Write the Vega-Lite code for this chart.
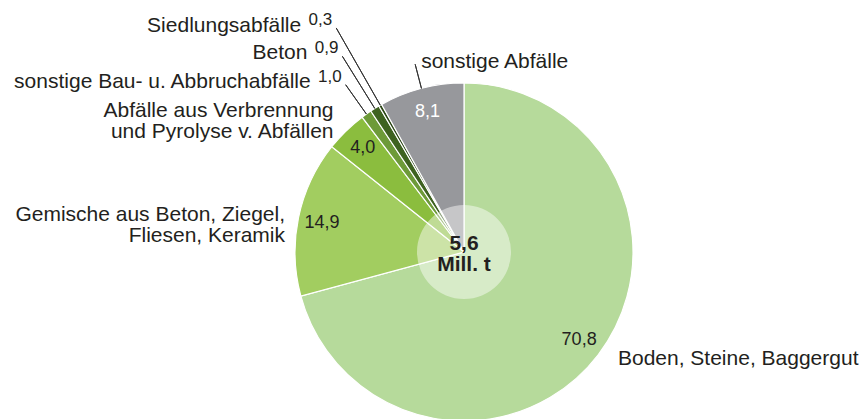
{
  "$schema": "https://vega.github.io/schema/vega-lite/v6.json",
  "autosize": {"type": "none"},
  "padding": {"left": 61, "top": 85, "right": 0, "bottom": 0},
  "width": 806,
  "height": 334,
  "background": "white",
  "config": {"view": {"stroke": null}, "font": "Liberation Sans"},
  "datasets": {
    "waste": [
      {"key": "Boden", "name": "Boden, Steine, Baggergut", "value": 70.8, "label": "70,8", "order": 1},
      {"key": "Gemische", "name": "Gemische aus Beton, Ziegel,\nFliesen, Keramik", "value": 14.9, "label": "14,9", "order": 2},
      {"key": "Verbrennung", "name": "Abfälle aus Verbrennung\nund Pyrolyse v. Abfällen", "value": 4.0, "label": "4,0", "order": 3},
      {"key": "Bau", "name": "sonstige Bau- u. Abbruchabfälle", "value": 1.0, "label": "1,0", "order": 4},
      {"key": "Beton", "name": "Beton", "value": 0.9, "label": "0,9", "order": 5},
      {"key": "Siedlung", "name": "Siedlungsabfälle", "value": 0.3, "label": "0,3", "order": 6},
      {"key": "Sonstige", "name": "sonstige Abfälle", "value": 8.1, "label": "8,1", "order": 7}
    ],
    "total": [{"centerLabel": "5,6\nMill. t"}]
  },
  "data": {"name": "waste"},
  "layer": [
    {
      "mark": {"type": "arc", "radius": 169, "stroke": "white", "strokeWidth": 1.2},
      "encoding": {
        "theta": {"field": "value", "type": "quantitative", "stack": true},
        "order": {"field": "order"},
        "color": {
          "field": "key", "type": "nominal", "legend": null,
          "scale": {
            "domain": ["Boden", "Gemische", "Verbrennung", "Bau", "Beton", "Siedlung", "Sonstige"],
            "range": ["#b6da9b", "#a2cd60", "#8bbd3e", "#6d9a38", "#3e6220", "#2c4716", "#97989c"]
          }
        }
      }
    },
    {
      "transform": [{"aggregate": [{"op": "sum", "field": "value", "as": "value"}]}],
      "mark": {"type": "arc", "radius": 47, "fill": "white", "fillOpacity": 0.45, "strokeWidth": 0},
      "encoding": {"theta": {"field": "value", "type": "quantitative", "stack": true}}
    },
    {
      "mark": {"type": "arc", "radius": 204.9, "radius2": 169, "padAngle": 1, "filled": false, "stroke": "#333333", "strokeWidth": 1},
      "encoding": {
        "theta": {"field": "value", "type": "quantitative", "stack": true},
        "order": {"field": "order"},
        "strokeOpacity": {"condition": {"test": "datum.key === 'Bau'", "value": 1}, "value": 0}
      }
    },
    {
      "mark": {"type": "arc", "radius": 230.4, "radius2": 169, "padAngle": 1, "filled": false, "stroke": "#333333", "strokeWidth": 1},
      "encoding": {
        "theta": {"field": "value", "type": "quantitative", "stack": true},
        "order": {"field": "order"},
        "strokeOpacity": {"condition": {"test": "datum.key === 'Beton'", "value": 1}, "value": 0}
      }
    },
    {
      "mark": {"type": "arc", "radius": 257.9, "radius2": 169, "padAngle": 1, "filled": false, "stroke": "#333333", "strokeWidth": 1},
      "encoding": {
        "theta": {"field": "value", "type": "quantitative", "stack": true},
        "order": {"field": "order"},
        "strokeOpacity": {"condition": {"test": "datum.key === 'Siedlung'", "value": 1}, "value": 0}
      }
    },
    {
      "mark": {"type": "arc", "radius": 194, "radius2": 169, "padAngle": 1, "filled": false, "stroke": "#333333", "strokeWidth": 1},
      "encoding": {
        "theta": {"field": "value", "type": "quantitative", "stack": true},
        "order": {"field": "order"},
        "strokeOpacity": {"condition": {"test": "datum.key === 'Sonstige'", "value": 1}, "value": 0}
      }
    },
    {
      "mark": {"type": "text", "radius": 145, "fontSize": 18, "align": "center", "baseline": "middle"},
      "encoding": {
        "theta": {"field": "value", "type": "quantitative", "stack": true},
        "order": {"field": "order"},
        "text": {"condition": {"test": "datum.value >= 4", "field": "label"}, "value": ""},
        "color": {"condition": {"test": "datum.key === 'Sonstige'", "value": "#ffffff"}, "value": "#231f20"}
      }
    },
    {
      "mark": {"type": "text", "radius": 204.9, "dx": -4, "dy": -3, "fontSize": 17, "align": "right", "baseline": "alphabetic", "color": "#231f20"},
      "encoding": {
        "theta": {"field": "value", "type": "quantitative", "stack": true},
        "order": {"field": "order"},
        "text": {"condition": {"test": "datum.key === 'Bau'", "field": "label"}, "value": ""}
      }
    },
    {
      "mark": {"type": "text", "radius": 230.4, "dx": -4, "dy": -3, "fontSize": 17, "align": "right", "baseline": "alphabetic", "color": "#231f20"},
      "encoding": {
        "theta": {"field": "value", "type": "quantitative", "stack": true},
        "order": {"field": "order"},
        "text": {"condition": {"test": "datum.key === 'Beton'", "field": "label"}, "value": ""}
      }
    },
    {
      "mark": {"type": "text", "radius": 257.9, "dx": -4, "dy": -3, "fontSize": 17, "align": "right", "baseline": "alphabetic", "color": "#231f20"},
      "encoding": {
        "theta": {"field": "value", "type": "quantitative", "stack": true},
        "order": {"field": "order"},
        "text": {"condition": {"test": "datum.key === 'Siedlung'", "field": "label"}, "value": ""}
      }
    },
    {
      "mark": {"type": "text", "radius": 204.9, "dx": -35, "dy": 3.6, "fontSize": 21, "align": "right", "baseline": "alphabetic", "color": "#231f20"},
      "encoding": {
        "theta": {"field": "value", "type": "quantitative", "stack": true},
        "order": {"field": "order"},
        "text": {"condition": {"test": "datum.key === 'Bau'", "field": "name"}, "value": ""}
      }
    },
    {
      "mark": {"type": "text", "radius": 230.4, "dx": -35, "dy": 3, "fontSize": 21, "align": "right", "baseline": "alphabetic", "color": "#231f20"},
      "encoding": {
        "theta": {"field": "value", "type": "quantitative", "stack": true},
        "order": {"field": "order"},
        "text": {"condition": {"test": "datum.key === 'Beton'", "field": "name"}, "value": ""}
      }
    },
    {
      "mark": {"type": "text", "radius": 257.9, "dx": -35, "dy": 3.7, "fontSize": 21, "align": "right", "baseline": "alphabetic", "color": "#231f20"},
      "encoding": {
        "theta": {"field": "value", "type": "quantitative", "stack": true},
        "order": {"field": "order"},
        "text": {"condition": {"test": "datum.key === 'Siedlung'", "field": "name"}, "value": ""}
      }
    },
    {
      "mark": {"type": "text", "radius": 175, "dx": 15, "dy": 7, "fontSize": 21, "align": "left", "baseline": "alphabetic", "color": "#231f20"},
      "encoding": {
        "theta": {"field": "value", "type": "quantitative", "stack": true},
        "order": {"field": "order"},
        "text": {"condition": {"test": "datum.key === 'Boden'", "field": "name"}, "value": ""}
      }
    },
    {
      "mark": {"type": "text", "radius": 175, "dx": -7.6, "dy": -12.3, "fontSize": 21, "lineHeight": 21, "lineBreak": "\n", "align": "right", "baseline": "top", "color": "#231f20"},
      "encoding": {
        "theta": {"field": "value", "type": "quantitative", "stack": true},
        "order": {"field": "order"},
        "text": {"condition": {"test": "datum.key === 'Gemische'", "field": "name"}, "value": ""}
      }
    },
    {
      "mark": {"type": "text", "radius": 175, "dx": -8.3, "dy": -26.5, "fontSize": 21, "lineHeight": 21, "lineBreak": "\n", "align": "right", "baseline": "top", "color": "#231f20"},
      "encoding": {
        "theta": {"field": "value", "type": "quantitative", "stack": true},
        "order": {"field": "order"},
        "text": {"condition": {"test": "datum.key === 'Verbrennung'", "field": "name"}, "value": ""}
      }
    },
    {
      "mark": {"type": "text", "radius": 194, "dx": 6, "dy": -2, "fontSize": 21, "align": "left", "baseline": "middle", "color": "#231f20"},
      "encoding": {
        "theta": {"field": "value", "type": "quantitative", "stack": true},
        "order": {"field": "order"},
        "text": {"condition": {"test": "datum.key === 'Sonstige'", "field": "name"}, "value": ""}
      }
    },
    {
      "data": {"name": "total"},
      "mark": {"type": "text", "dy": -18.8, "fontSize": 21, "fontWeight": "bold", "lineHeight": 21, "lineBreak": "\n", "align": "center", "baseline": "top", "color": "#231f20"},
      "encoding": {"text": {"field": "centerLabel"}}
    }
  ]
}
